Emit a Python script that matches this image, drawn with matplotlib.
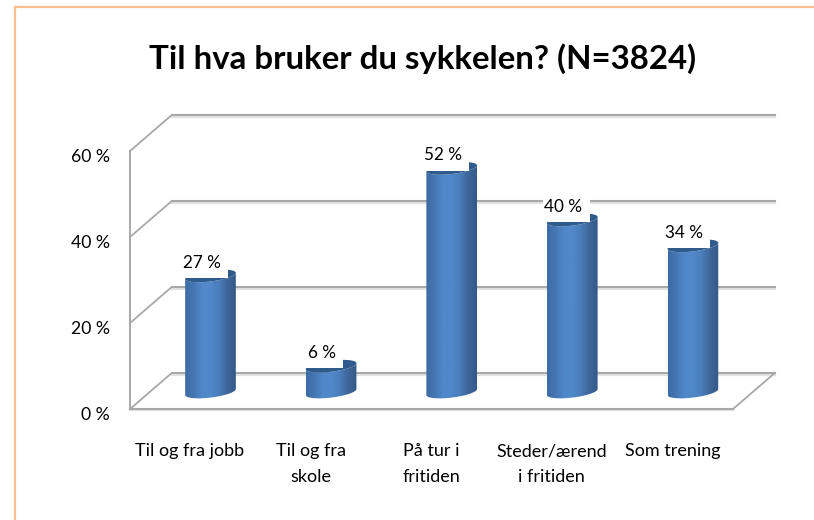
import matplotlib
matplotlib.use("Agg")
import matplotlib.pyplot as plt
import numpy as np
from matplotlib.colors import LinearSegmentedColormap
from matplotlib.patches import PathPatch, Polygon, Rectangle
from matplotlib.path import Path

categories = ["Til og fra jobb", "Til og fra\nskole", "På tur i\nfritiden", "Steder/ærend\ni fritiden", "Som trening"]
values = [27, 6, 52, 40, 34]
value_labels = ["27 %", "6 %", "52 %", "40 %", "34 %"]
y_ticks = [0, 20, 40, 60]
y_tick_labels = ["0 %", "20 %", "40 %", "60 %"]
title = "Til hva bruker du sykkelen? (N=3824)"

W, H = 814, 520
PX_X = 120.6  # pixels per category
PX_Y = 4.3    # pixels per percent
X0_PX, Y0_PX = 210.5, 392

plt.rcParams["font.family"] = ["Lato", "DejaVu Sans"]

fig = plt.figure(figsize=(W / 100, H / 100), dpi=100)
ax = fig.add_axes([0, 0, 1, 1])
ax.axis("off")
xlim = (-X0_PX / PX_X, (W - X0_PX) / PX_X)
ylim = ((Y0_PX - H) / PX_Y, Y0_PX / PX_Y)

# chart border, only top and left are in the crop
border = "#FBC08E"
fig.add_artist(plt.Line2D([15 / W, 15 / W], [0, 1 - 7 / H], color=border, lw=1.6))
fig.add_artist(plt.Line2D([15 / W, 1], [1 - 7 / H, 1 - 7 / H], color=border, lw=1.6))

# 3d frame
front_l, front_r = -0.667, 4.333
depth_x = 0.345
front_y, back_y = -3.95, 4.4
grid = "#A8A8A8"
shadow = "#E2E2E2"

for t in y_ticks:
    ax.plot([front_l + depth_x, front_r + depth_x], [back_y + t - 0.35] * 2, color=shadow, lw=1.6, zorder=1)
    ax.plot([front_l + depth_x, front_r + depth_x], [back_y + t] * 2, color=grid, lw=1.5, zorder=2)
    ax.plot([front_l, front_l + depth_x], [front_y + t, back_y + t], color=grid, lw=1.3, zorder=2)
ax.plot([front_l, front_l], [front_y, front_y + y_ticks[-1]], color=grid, lw=1.4, zorder=2)
ax.plot([front_l, front_r], [front_y - 0.3] * 2, color=shadow, lw=1.6, zorder=1)
ax.plot([front_l, front_r], [front_y, front_y], color=grid, lw=1.5, zorder=2)
ax.plot([front_r, front_r + depth_x], [front_y, back_y], color=grid, lw=1.3, zorder=2)

# cylinders
hw = 0.21
tilt = 0.7
minor = 1.3
side = LinearSegmentedColormap.from_list(
    "side", ["#3C6CA4", "#4677B3", "#5088CA", "#5088C9", "#4A7DBA", "#3D6699", "#34598A"])
grad = np.linspace(0, 1, 128).reshape(1, -1)


def rim(cx, cy, t):
    return np.column_stack([cx + hw * np.cos(t), cy + tilt * np.cos(t) + minor * np.sin(t)])


for i, v in enumerate(values):
    low = rim(i, 0, np.linspace(np.pi, 2 * np.pi, 40))
    top = rim(i, v, np.linspace(2 * np.pi, np.pi, 40))
    body = np.vstack([low, top, low[:1]])
    patch = PathPatch(Path(body), facecolor="none", edgecolor="none", zorder=4)
    ax.add_patch(patch)
    im = ax.imshow(grad, extent=(i - hw, i + hw, -3, v + 3), cmap=side, aspect="auto", zorder=4)
    im.set_clip_path(patch)
    cap = rim(i, v, np.linspace(0, 2 * np.pi, 60))
    ax.add_patch(Polygon(cap, closed=True, facecolor="#2F5A8C", edgecolor="none", zorder=5))
    # white label box cuts into the top of the cylinder
    box_r = 0.145 if v >= 10 else 0.1
    ax.add_patch(Rectangle((i - hw - 0.03, v - 0.5), hw + 0.03 + box_r, 7, facecolor="white", edgecolor="none", zorder=6))
    ax.text(i - 9 / PX_X, v + 3.0, value_labels[i], fontsize=12.3, ha="center", va="center", zorder=7)

for t, lab in zip(y_ticks, y_tick_labels):
    ax.text(-0.833, front_y + t - 1.3, lab, fontsize=12.7, ha="right", va="center", color="black")

for i, c in enumerate(categories):
    ax.text(i - 20.5 / PX_X, -11.9, c, fontsize=13, ha="center", va="top", color="black", linespacing=1.75)

ax.text(0.519, 1 - 59 / H, title, transform=ax.transAxes, fontsize=23.8, fontweight="bold",
        ha="center", va="center", color="black")

ax.set_xlim(xlim)
ax.set_ylim(ylim)
fig.savefig("out.png", dpi=100)
plt.close(fig)
